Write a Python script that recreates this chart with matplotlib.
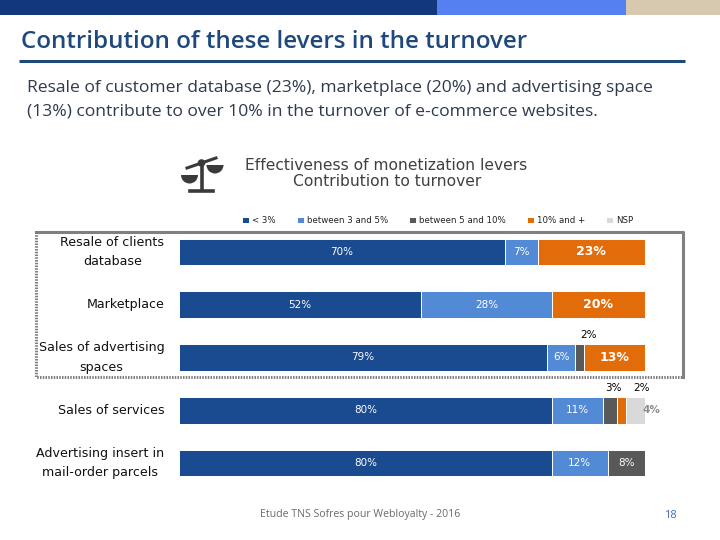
from matplotlib import pyplot as plt
from matplotlib.patches import Circle, Rectangle, Wedge

categories = [
    "Resale of clients\ndatabase",
    "Marketplace",
    "Sales of advertising\nspaces",
    "Sales of services",
    "Advertising insert in\nmail-order parcels",
]
series_names = ["< 3%", "between 3 and 5%", "between 5 and 10%", "10% and +", "NSP"]
under_3 = [70, 52, 79, 80, 80]
between_3_5 = [7, 28, 6, 11, 12]
between_5_10 = [0, 0, 2, 3, 8]
ten_plus = [23, 20, 13, 2, 0]
nsp = [0, 0, 0, 4, 0]

colors = ["#1A4A8F", "#538AD6", "#595959", "#E36C0A", "#D9D9D9"]
NAVY = "#1F497D"

fig = plt.figure(figsize=(7.2, 5.4), dpi=100, facecolor="white")

# fond de page, en coordonnees pixels
bg = fig.add_axes([0, 0, 1, 1])
bg.set_xlim(0, 720)
bg.set_ylim(540, 0)
bg.axis("off")

bg.add_patch(Rectangle((0, 0), 437, 14.5, color="#12377A", lw=0))
bg.add_patch(Rectangle((437, 0), 189, 14.5, color="#5580F2", lw=0))
bg.add_patch(Rectangle((626, 0), 94, 14.5, color="#D6C9B0", lw=0))
bg.plot([19, 685], [60.5, 60.5], color=NAVY, lw=2.2, solid_capstyle="butt")

bg.text(21, 42, "Contribution of these levers in the turnover", fontsize=17.35,
        fontweight="semibold", family="Open Sans", color=NAVY, va="center")
bg.text(27, 88.5, "Resale of customer database (23%), marketplace (20%) and advertising space",
        fontsize=12.6, family="Open Sans", color="#2E3B4E", va="center")
bg.text(27, 111.5, "(13%) contribute to over 10% in the turnover of e-commerce websites.",
        fontsize=12.6, family="Open Sans", color="#2E3B4E", va="center")

bg.text(386.5, 166, "Effectiveness of monetization levers", fontsize=11.2,
        color="#404040", ha="center", va="center")
bg.text(387, 182, "Contribution to turnover", fontsize=11.2,
        color="#404040", ha="center", va="center")

# balance
icon = "#3A3A3A"
bg.plot([187, 216], [168, 158], color=icon, lw=2.2)
bg.plot([201.5, 201.5], [163, 190], color=icon, lw=2.6)
bg.plot([190, 213], [190.5, 190.5], color=icon, lw=2.6)
bg.add_patch(Circle((201.5, 163), 3.8, color=icon, lw=0))
bg.add_patch(Wedge((189.5, 175), 8.5, 0, 180, color=icon, lw=0))
bg.add_patch(Wedge((215, 165), 8.5, 0, 180, color=icon, lw=0))

# cadre autour des trois premiers leviers
bg.plot([36, 683, 683], [231.5, 231.5, 377], color="#808080", lw=2.2)
bg.plot([36, 36, 683], [231.5, 377, 377], color="#808080", lw=2.2, ls=(0, (0.5, 0.4)))

bg.text(360, 515, "Etude TNS Sofres pour Webloyalty - 2016", fontsize=7.55,
        family="Open Sans", color="#6B6B6B", ha="center", va="center")
bg.text(670, 515, "18", fontsize=8, family="Open Sans", color="#3F6FB5",
        ha="center", va="center")

# graphique : 179-645 px en x, barres centrees de 252 a 463 px en y
ax = fig.add_axes([179 / 720, 1 - 489.4 / 540, 466 / 720, 263.8 / 540])
ax.patch.set_alpha(0)
series = [under_3, between_3_5, between_5_10, ten_plus, nsp]
rows = range(len(categories))
left = [0] * len(categories)
bars = []
for values, name, color in zip(series, series_names, colors):
    b = ax.barh(rows, values, left=left, height=0.51, color=color,
                edgecolor="white", linewidth=0.7, label=name)
    bars.append(b)
    left = [l + v for l, v in zip(left, values)]

ax.set_xlim(0, 100)
ax.set_ylim(4.5, -0.5)
ax.set_xticks([])
ax.set_yticks(list(rows))
ax.set_yticklabels(categories, fontsize=9.1, color="#111111", multialignment="center",
                   linespacing=1.62, va="center")
ax.tick_params(axis="y", length=0, pad=10.5)
for s in ax.spines.values():
    s.set_visible(False)

# etiquettes des valeurs : (serie, ligne) -> decalage en pixels
outside = {
    (2, 2): (9, -23),
    (2, 3): (3, -22),
    (3, 3): (20, -22),
}
start = [0] * len(categories)
for s_idx, values in enumerate(series):
    for row, v in enumerate(values):
        if v == 0:
            continue
        cx = start[row] + v / 2
        if (s_idx, row) in outside:
            dx, dy = outside[(s_idx, row)]
            ax.annotate(f"{v}%", (cx, row), xytext=(dx * 0.72, -dy * 0.72),
                        textcoords="offset points", ha="center", va="center",
                        fontsize=7.5, color="black")
        elif s_idx == 4:
            ax.annotate(f"{v}%", (cx, row), xytext=(15.5 * 0.72, 0),
                        textcoords="offset points", ha="center", va="center",
                        fontsize=7.5, color="#8C8C8C", fontweight="bold")
        elif s_idx == 3:
            ax.text(cx, row, f"{v}%", ha="center", va="center", fontsize=9,
                    color="white", fontweight="bold")
        else:
            ax.text(cx, row, f"{v}%", ha="center", va="center", fontsize=7.5,
                    color="white")
        start[row] += v

handles = [b[0] for b in bars]
leg = fig.legend(handles, series_names, ncols=5, frameon=False, fontsize=6.2,
                 loc="center left", bbox_to_anchor=(242 / 720, 1 - 220.5 / 540),
                 handlelength=0.8, handleheight=0.8, handletextpad=0.35,
                 columnspacing=2.45, labelcolor="#222222", borderpad=0, borderaxespad=0)

fig.savefig("out.png", dpi=100)
